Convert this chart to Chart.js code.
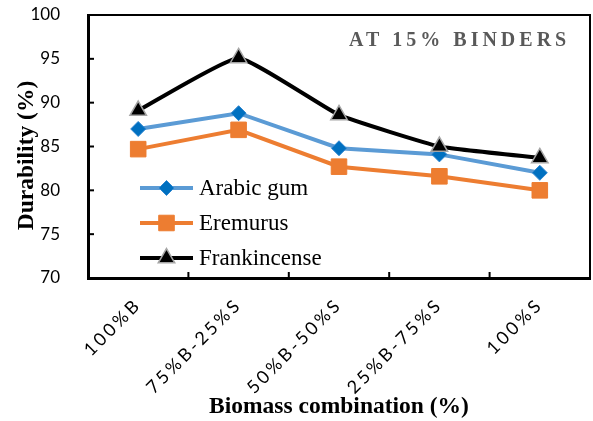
<!DOCTYPE html>
<html>
<head>
<meta charset="utf-8">
<script src="https://cdn.jsdelivr.net/npm/chart.js@4/dist/chart.umd.min.js"></script>
<style>
  html, body { margin: 0; padding: 0; background: #ffffff; }
  #wrap { width: 593px; height: 421px; }
</style>
</head>
<body>
<div id="wrap"><canvas id="c" width="593" height="421"></canvas></div>
<script>
const categories = ['100%B', '75%B-25%S', '50%B-50%S', '25%B-75%S', '100%S'];
const arabicGum = [87.0, 88.8, 84.8, 84.1, 82.0];
const eremurus = [84.7, 86.9, 82.7, 81.6, 80.0];
const frankincense = [89.1, 95.1, 88.6, 85.0, 83.7];
const yTicks = [70, 75, 80, 85, 90, 95, 100];
const seriesNames = ['Arabic gum', 'Eremurus', 'Frankincense'];
const chartTitle = 'AT 15% BINDERS';
const xTitle = 'Biomass combination (%)';
const yTitle = 'Durability (%)';

const SERIF = "'Liberation Serif', 'Times New Roman', serif";
const SANS = "Lato, 'Open Sans', sans-serif";

function drawMarker(ctx, style, x, y, r, fill, stroke, bw) {
  ctx.save();
  ctx.beginPath();
  if (style === 'rectRot') {
    ctx.moveTo(x, y - r); ctx.lineTo(x + r, y); ctx.lineTo(x, y + r); ctx.lineTo(x - r, y); ctx.closePath();
  } else if (style === 'rect') {
    const s = Math.SQRT1_2 * r;
    ctx.rect(x - s, y - s, 2 * s, 2 * s);
  } else {
    const a = r * Math.sin(Math.PI / 3);
    ctx.moveTo(x, y - r); ctx.lineTo(x + a, y + r / 2); ctx.lineTo(x - a, y + r / 2); ctx.closePath();
  }
  ctx.fillStyle = fill; ctx.fill();
  ctx.lineWidth = bw; ctx.strokeStyle = stroke; ctx.stroke();
  ctx.restore();
}

const decorPlugin = {
  id: 'decor',
  afterDraw(chart) {
    const ctx = chart.ctx;
    const ca = chart.chartArea;
    const xs = chart.scales.x, ys = chart.scales.y;
    ctx.save();
    ctx.strokeStyle = '#000'; ctx.lineWidth = 2;
    ctx.beginPath();
    ctx.moveTo(ca.left, ca.top); ctx.lineTo(ca.right, ca.top); ctx.lineTo(ca.right, ca.bottom);
    ctx.stroke();
    ctx.lineWidth = 2;
    ys.ticks.forEach((t, i) => {
      const y = ys.getPixelForTick(i);
      ctx.beginPath(); ctx.moveTo(ca.left, y); ctx.lineTo(ca.left + 6, y); ctx.stroke();
    });
    for (let i = 1; i < categories.length; i++) {
      const x = (xs.getPixelForTick(i - 1) + xs.getPixelForTick(i)) / 2;
      ctx.beginPath(); ctx.moveTo(x, ca.bottom); ctx.lineTo(x, ca.bottom - 6); ctx.stroke();
    }
    // y axis title
    ctx.save();
    ctx.translate(27, (ca.top + ca.bottom) / 2 + 9);
    ctx.rotate(-Math.PI / 2);
    ctx.fillStyle = '#000';
    ctx.font = 'bold 23.5px ' + SERIF;
    ctx.textAlign = 'center'; ctx.textBaseline = 'middle';
    ctx.fillText(yTitle, 0, 0);
    ctx.restore();
    // chart title
    ctx.fillStyle = '#595959';
    ctx.font = 'bold 20px ' + SERIF;
    ctx.letterSpacing = '4px';
    ctx.textAlign = 'left'; ctx.textBaseline = 'middle';
    ctx.fillText(chartTitle, ca.left + 261, ca.top + 26);
    ctx.letterSpacing = '0px';
    // legend
    const ds = chart.data.datasets;
    const lx0 = ca.left + 52, lx1 = ca.left + 105, tx = ca.left + 111;
    const rows = [ca.top + 173, ca.top + 208, ca.top + 243];
    ds.forEach((d, i) => {
      const y = rows[i];
      ctx.strokeStyle = d.borderColor; ctx.lineWidth = 4;
      ctx.beginPath(); ctx.moveTo(lx0, y); ctx.lineTo(lx1, y); ctx.stroke();
      drawMarker(ctx, d.pointStyle, (lx0 + lx1) / 2, y, d.pointRadius, d.pointBackgroundColor, d.pointBorderColor, d.pointBorderWidth);
      ctx.fillStyle = '#000';
      ctx.font = '23px ' + SERIF;
      ctx.textAlign = 'left'; ctx.textBaseline = 'middle';
      ctx.fillText(d.label, tx, y + 1);
    });
    ctx.restore();
  }
};

const chart = new Chart(document.getElementById('c'), {
  type: 'line',
  data: {
    labels: categories,
    datasets: [
      {
        label: seriesNames[0], data: arabicGum, order: 2,
        borderColor: '#5B9BD5', borderWidth: 4,
        pointStyle: 'rectRot', pointRadius: 7.5, pointBackgroundColor: '#0070C0',
        pointBorderColor: '#2E86D0', pointBorderWidth: 1, tension: 0
      },
      {
        label: seriesNames[1], data: eremurus, order: 1,
        borderColor: '#ED7D31', borderWidth: 4,
        pointStyle: 'rect', pointRadius: 11, pointBackgroundColor: '#ED7D31',
        pointBorderColor: '#ED7D31', pointBorderWidth: 1, tension: 0
      },
      {
        label: seriesNames[2], data: frankincense, order: 0,
        borderColor: '#000000', borderWidth: 4,
        pointStyle: 'triangle', pointRadius: 9.5, pointBackgroundColor: '#000000',
        pointBorderColor: '#A5A5A5', pointBorderWidth: 1.5, tension: 0.12
      }
    ]
  },
  options: {
    responsive: false,
    animation: false,
    devicePixelRatio: 1,
    layout: { autoPadding: false, padding: { left: 0, right: 3, top: 15, bottom: 0 } },
    plugins: { legend: { display: false }, tooltip: { enabled: false }, title: { display: false } },
    scales: {
      x: {
        type: 'category',
        offset: true,
        grid: { display: false },
        border: { display: true, color: '#000', width: 3 },
        ticks: {
          color: '#000', font: { family: SANS, size: 18 },
          minRotation: 45, maxRotation: 45, padding: 8, autoSkip: false
        },
        title: { display: true, text: xTitle, color: '#000',
          font: { family: SERIF, size: 23.5, weight: 'bold' }, padding: { top: 0, bottom: 0 } },
        afterFit(scale) {
          scale.height = 143;
          scale.paddingLeft = 0; scale.paddingRight = 0;
          if (!scale._lsWrapped) {
            const orig = scale.drawLabels;
            scale.drawLabels = function (a) {
              const c = this.ctx; c.save(); c.letterSpacing = '3px'; orig.call(this, a); c.restore();
            };
            scale._lsWrapped = true;
          }
        }
      },
      y: {
        min: 70, max: 100,
        afterBuildTicks(scale) { scale.ticks = yTicks.map(v => ({ value: v })); },
        grid: { display: false },
        border: { display: true, color: '#000', width: 3 },
        ticks: { color: '#000', font: { family: SANS, size: 17 }, padding: 20 },
        title: { display: false, text: yTitle },
        afterFit(scale) { scale.width = 88; scale.paddingTop = 0; scale.paddingBottom = 0; }
      }
    }
  },
  plugins: [decorPlugin]
});
</script>
</body>
</html>
